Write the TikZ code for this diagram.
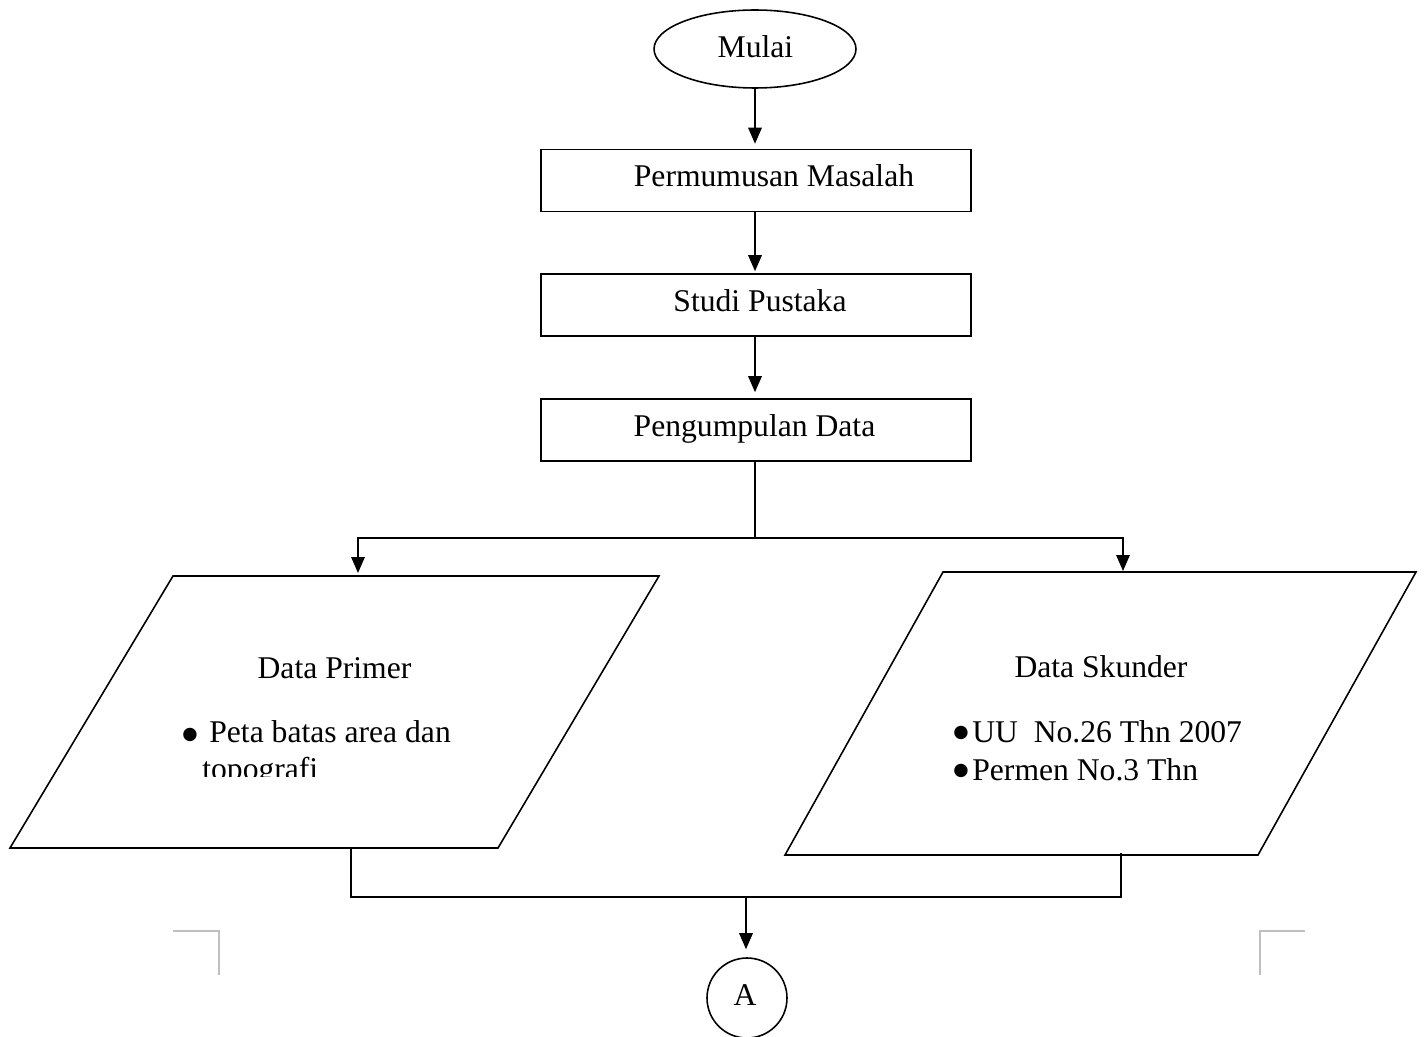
\documentclass[tikz,border=0pt]{standalone}
\usepackage{fontspec}
\setmainfont{Liberation Serif}
\newfontfamily\symfont{DejaVu Sans}
\usetikzlibrary{shapes.geometric,arrows.meta}
\begin{document}
\begin{tikzpicture}[x=0.02cm,y=-0.02cm,
  every node/.style={font=\fontsize{18}{21.6}\selectfont, inner sep=0pt},
  line/.style={draw=black, line width=0.9pt},
  arr/.style={line, -{Triangle[length=0.32cm,width=0.27cm]}, shorten >=0.1cm},
  stepbox/.style={draw=black, line width=0.9pt, rectangle, minimum width=8.6cm, minimum height=1.24cm},
  cornermark/.style={draw=black!25, line width=0.6pt},
  txt/.style={anchor=base},
  bul/.style={anchor=center, font=\symfont\fontsize{10}{10}\selectfont}
]
\useasboundingbox (0,0) rectangle (1424,1037);

% start
\node[draw=black, line width=0.9pt, ellipse, minimum width=4.04cm, minimum height=1.56cm] (mulai) at (755,49) {};
\node[txt] (tmulai) at (755.5,58) {Mulai};

% process boxes
\node[stepbox] (b1) at (756,180.5) {};
\node[txt] (tb1) at (774,187) {Permumusan Masalah};
\node[stepbox] (b2) at (756,305) {};
\node[txt] (tb2) at (760,312) {Studi Pustaka};
\node[stepbox] (b3) at (756,430) {};
\node[txt] (tb3) at (754.5,437) {Pengumpulan Data};

\draw[arr] (mulai.south) -- (mulai.south |- b1.north);
\draw[arr, shorten >=0.04cm] (b1.south -| mulai.south) -- (mulai.south |- b2.north);
\draw[arr, shorten >=0.12cm] (b2.south -| mulai.south) -- (mulai.south |- b3.north);

% data parallelograms
\draw[line] (173,576) -- (659,576) -- (498,848) -- (10,848) -- cycle;
\draw[line] (943,572) -- (1416,572) -- (1258,855) -- (785,855) -- cycle;
\coordinate (pTop) at (358,576);
\coordinate (sTop) at (1123,572);
\coordinate (pBot) at (351,848);
\coordinate (sBot) at (1121,853);

\coordinate (split) at (755,538);
\draw[line] (b3.south -| split) -- (split);
\draw[arr, shorten >=0.06cm] (split) -| (pTop);
\draw[arr, shorten >=0.02cm] (split) -| (sTop);

% left text
\node[txt] (tprimer) at (334.5,678) {Data Primer};
\node[bul] (bl) at (190,735) {●};
\node[txt, anchor=base west] (tpeta) at (209,742) {Peta batas area dan};
\begin{scope}
\clip (150,700) rectangle (520,776);
\node[txt, anchor=base west] (ttopo) at (202,779) {topografi};
\end{scope}

% right text
\node[txt] (tskunder) at (1101,677) {Data Skunder};
\node[bul] (br1) at (961,733) {●};
\node[txt, anchor=base west] (tuu) at (972,742) {UU\ \ No.26 Thn 2007};
\node[bul] (br2) at (961,771) {●};
\node[txt, anchor=base west] (tpermen) at (972,780) {Permen No.3 Thn};

% merge
\coordinate (merge) at (746,897);
\draw[line] (pBot) |- (merge) -| (sBot);
\node[draw=black, line width=0.9pt, circle, minimum size=1.6cm] (A) at (747,998) {};
\node[txt] (tA) at (745,1005) {A};
\draw[arr, shorten >=0.16cm] (merge) -- (merge |- A.north);

% page corner marks
\draw[cornermark] (173,931) -- (219,931) -- (219,975);
\draw[cornermark] (1305,931) -- (1260,931) -- (1260,975);
\end{tikzpicture}
\end{document}
